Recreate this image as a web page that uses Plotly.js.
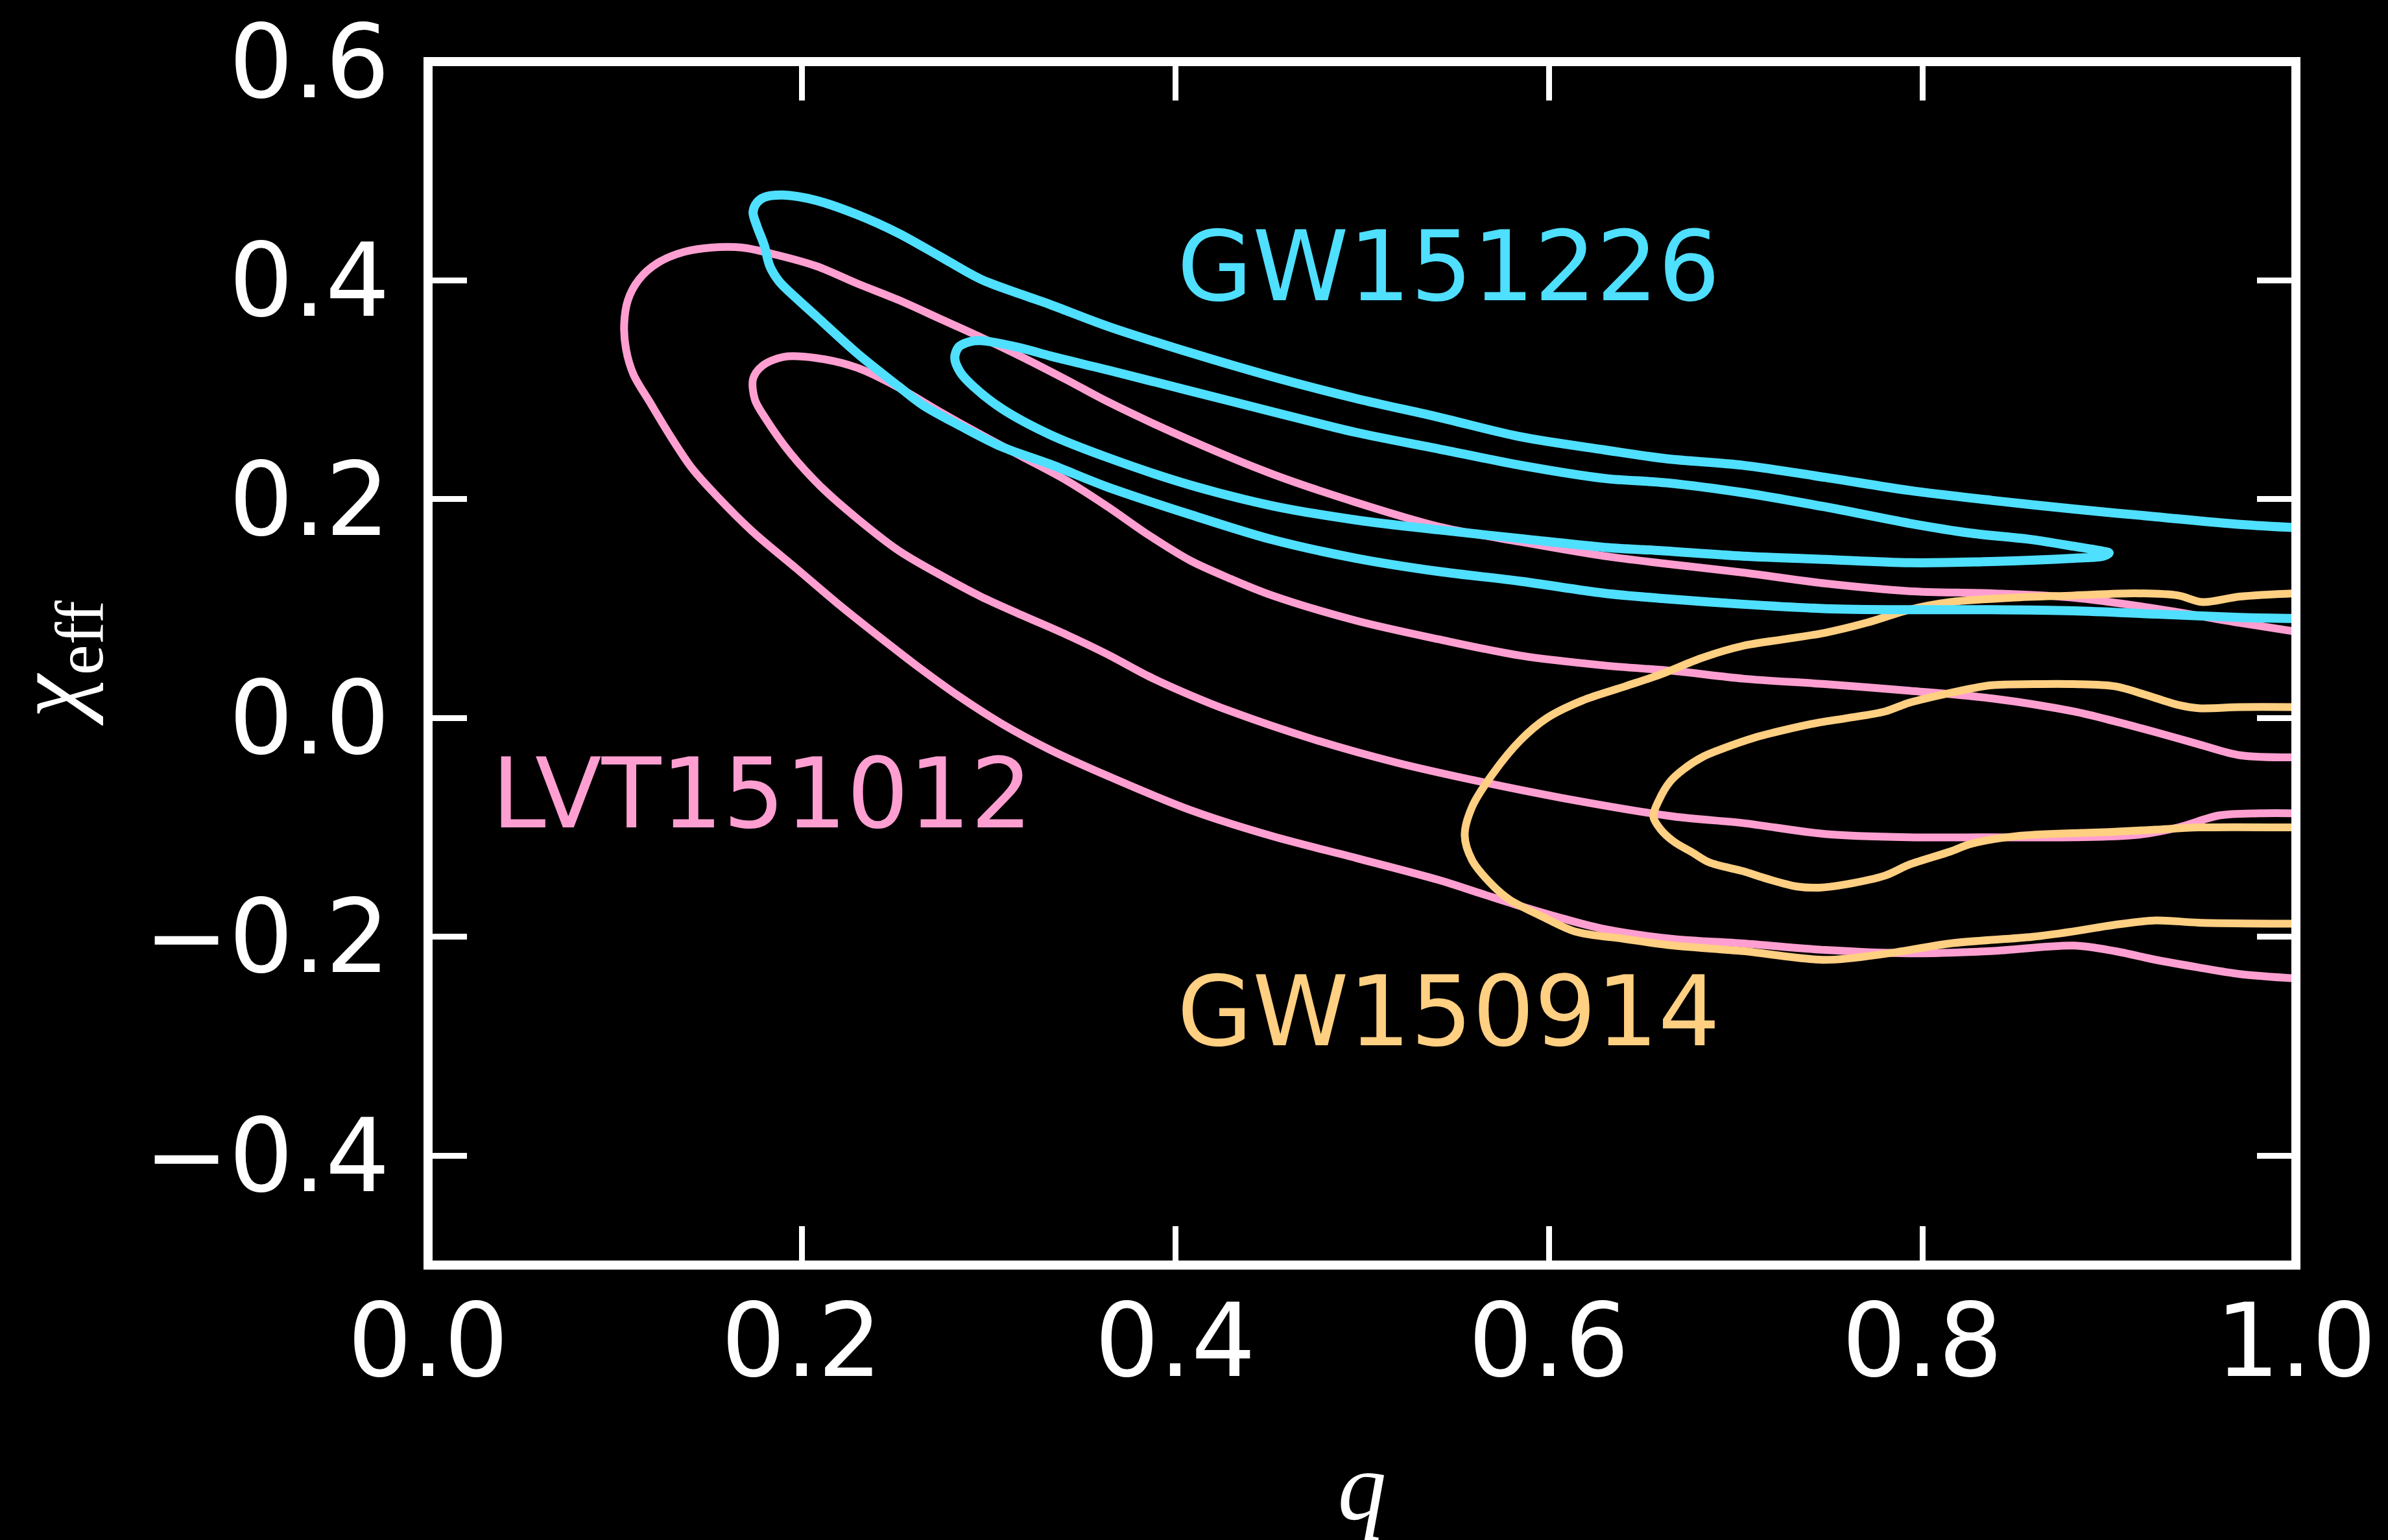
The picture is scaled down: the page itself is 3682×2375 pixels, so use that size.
<!DOCTYPE html>
<html>
<head>
<meta charset="utf-8">
<script src="https://cdn.plot.ly/plotly-3.0.1.min.js"></script>
<style>
  html, body { margin: 0; padding: 0; background: #000; }
  #chart { width: 3682px; height: 2375px; }
</style>
</head>
<body>
<div id="chart"></div>
<script>
// Credible-region contours (90% outer, 50% inner) in the mass-ratio / effective-spin plane.
// Each contour runs from the q = 1 edge along its upper side, round its tip, and back along its lower side.

const gw151226_90_q = [1.000, 0.970, 0.925, 0.881, 0.837, 0.793, 0.748, 0.704, 0.663, 0.630, 0.585, 0.541, 0.497, 0.452, 0.408, 0.364, 0.333, 0.318, 0.296, 0.274, 0.252, 0.230, 0.208, 0.190, 0.180, 0.176, 0.174, 0.176, 0.180, 0.183, 0.188, 0.197, 0.208, 0.230, 0.252, 0.265, 0.285, 0.307, 0.333, 0.364, 0.408, 0.452, 0.497, 0.541, 0.585, 0.630, 0.663, 0.704, 0.748, 0.793, 0.837, 0.881, 0.925, 0.970, 1.000];
const gw151226_90_chi = [0.174, 0.177, 0.184, 0.191, 0.199, 0.208, 0.220, 0.231, 0.237, 0.245, 0.257, 0.275, 0.292, 0.312, 0.334, 0.358, 0.378, 0.387, 0.401, 0.422, 0.443, 0.460, 0.473, 0.478, 0.476, 0.471, 0.462, 0.450, 0.432, 0.413, 0.399, 0.384, 0.367, 0.333, 0.303, 0.286, 0.267, 0.248, 0.232, 0.211, 0.186, 0.163, 0.146, 0.134, 0.125, 0.114, 0.109, 0.104, 0.100, 0.099, 0.099, 0.098, 0.095, 0.092, 0.091];

const gw151226_50_q = [0.282, 0.284, 0.290, 0.296, 0.318, 0.333, 0.364, 0.408, 0.452, 0.497, 0.541, 0.585, 0.630, 0.663, 0.704, 0.748, 0.793, 0.826, 0.859, 0.881, 0.895, 0.900, 0.897, 0.881, 0.837, 0.793, 0.748, 0.704, 0.660, 0.630, 0.585, 0.541, 0.497, 0.452, 0.408, 0.364, 0.333, 0.307, 0.292, 0.285, 0.282];
const gw151226_50_chi = [0.329, 0.339, 0.344, 0.345, 0.338, 0.331, 0.318, 0.299, 0.280, 0.261, 0.246, 0.231, 0.219, 0.215, 0.206, 0.193, 0.178, 0.169, 0.163, 0.157, 0.153, 0.151, 0.148, 0.146, 0.143, 0.142, 0.145, 0.148, 0.153, 0.156, 0.164, 0.172, 0.181, 0.194, 0.213, 0.238, 0.259, 0.283, 0.303, 0.316, 0.329];

const lvt151012_90_q = [1.000, 0.970, 0.925, 0.881, 0.837, 0.793, 0.748, 0.704, 0.663, 0.630, 0.585, 0.541, 0.497, 0.452, 0.408, 0.364, 0.342, 0.318, 0.296, 0.274, 0.252, 0.230, 0.208, 0.185, 0.168, 0.152, 0.137, 0.123, 0.113, 0.107, 0.105, 0.106, 0.110, 0.119, 0.130, 0.141, 0.154, 0.174, 0.197, 0.219, 0.241, 0.263, 0.285, 0.307, 0.333, 0.364, 0.408, 0.452, 0.497, 0.541, 0.563, 0.585, 0.607, 0.630, 0.667, 0.704, 0.748, 0.793, 0.837, 0.881, 0.903, 0.925, 0.948, 0.970, 1.000];
const lvt151012_90_chi = [0.079, 0.087, 0.100, 0.110, 0.114, 0.116, 0.123, 0.133, 0.141, 0.148, 0.161, 0.175, 0.197, 0.223, 0.254, 0.289, 0.309, 0.330, 0.348, 0.365, 0.382, 0.397, 0.413, 0.424, 0.430, 0.430, 0.426, 0.416, 0.401, 0.382, 0.360, 0.337, 0.314, 0.288, 0.257, 0.229, 0.204, 0.170, 0.137, 0.105, 0.075, 0.046, 0.019, -0.005, -0.029, -0.053, -0.084, -0.108, -0.128, -0.148, -0.160, -0.172, -0.183, -0.193, -0.202, -0.206, -0.212, -0.215, -0.213, -0.208, -0.213, -0.221, -0.228, -0.234, -0.238];

const lvt151012_50_q = [1.000, 0.970, 0.948, 0.925, 0.903, 0.881, 0.837, 0.793, 0.748, 0.704, 0.667, 0.630, 0.585, 0.541, 0.497, 0.452, 0.430, 0.408, 0.386, 0.364, 0.342, 0.318, 0.296, 0.274, 0.252, 0.230, 0.208, 0.190, 0.179, 0.174, 0.175, 0.181, 0.194, 0.210, 0.230, 0.252, 0.274, 0.296, 0.318, 0.342, 0.364, 0.386, 0.408, 0.430, 0.475, 0.519, 0.563, 0.607, 0.667, 0.704, 0.748, 0.793, 0.837, 0.881, 0.914, 0.937, 0.959, 0.981, 1.000];
const lvt151012_50_chi = [-0.036, -0.034, -0.024, -0.013, -0.003, 0.006, 0.018, 0.025, 0.031, 0.036, 0.043, 0.048, 0.057, 0.072, 0.089, 0.112, 0.127, 0.144, 0.167, 0.193, 0.217, 0.239, 0.259, 0.280, 0.302, 0.320, 0.329, 0.330, 0.322, 0.310, 0.291, 0.273, 0.242, 0.212, 0.182, 0.153, 0.131, 0.111, 0.094, 0.076, 0.058, 0.038, 0.021, 0.006, -0.020, -0.041, -0.058, -0.073, -0.090, -0.096, -0.106, -0.109, -0.109, -0.109, -0.107, -0.100, -0.089, -0.087, -0.087];

const gw150914_90_q = [1.000, 0.970, 0.950, 0.937, 0.914, 0.881, 0.848, 0.815, 0.793, 0.770, 0.748, 0.726, 0.704, 0.682, 0.660, 0.641, 0.618, 0.599, 0.585, 0.570, 0.559, 0.555, 0.559, 0.570, 0.579, 0.596, 0.614, 0.641, 0.667, 0.704, 0.748, 0.782, 0.815, 0.859, 0.881, 0.903, 0.925, 0.948, 1.000];
const gw150914_90_chi = [0.114, 0.111, 0.106, 0.112, 0.114, 0.112, 0.110, 0.106, 0.099, 0.087, 0.078, 0.072, 0.066, 0.055, 0.040, 0.029, 0.016, 0.000, -0.020, -0.051, -0.081, -0.107, -0.130, -0.153, -0.166, -0.181, -0.195, -0.202, -0.208, -0.213, -0.221, -0.215, -0.206, -0.200, -0.195, -0.189, -0.185, -0.187, -0.188];

const gw150914_50_q = [1.000, 0.970, 0.948, 0.937, 0.920, 0.903, 0.881, 0.860, 0.837, 0.815, 0.793, 0.780, 0.760, 0.745, 0.726, 0.710, 0.693, 0.683, 0.672, 0.665, 0.659, 0.656, 0.660, 0.667, 0.677, 0.686, 0.704, 0.717, 0.733, 0.745, 0.759, 0.780, 0.793, 0.815, 0.826, 0.850, 0.885, 0.903, 0.925, 0.948, 1.000];
const gw150914_50_chi = [0.010, 0.010, 0.009, 0.012, 0.021, 0.029, 0.031, 0.031, 0.030, 0.023, 0.014, 0.006, 0.000, -0.004, -0.011, -0.018, -0.028, -0.035, -0.047, -0.058, -0.075, -0.090, -0.102, -0.113, -0.123, -0.132, -0.140, -0.147, -0.154, -0.155, -0.152, -0.144, -0.134, -0.122, -0.115, -0.108, -0.105, -0.104, -0.102, -0.100, -0.100];

// Event names and where each name sits on the axes
const eventNames = ['GW151226', 'LVT151012', 'GW150914'];
const eventLabelQ = [0.5465, 0.1788, 0.5465];
const eventLabelChi = [0.413, -0.069, -0.268];

const xTickVals = [0.0, 0.2, 0.4, 0.6, 0.8, 1.0];
const xTickText = ['0.0', '0.2', '0.4', '0.6', '0.8', '1.0'];
const yTickVals = [-0.4, -0.2, 0.0, 0.2, 0.4, 0.6];
const yTickText = ['\u22120.4', '\u22120.2', '0.0', '0.2', '0.4', '0.6'];

const CYAN = '#4FDFFF';
const PINK = '#FF9FD1';
const ORANGE = '#FFCF82';
const eventColors = [CYAN, PINK, ORANGE];

function contour(q, chi, color, width) {
  return {
    type: 'scatter',
    mode: 'lines',
    x: q,
    y: chi,
    line: { color: color, width: width, shape: 'spline', smoothing: 0.9 },
    hoverinfo: 'skip',
    showlegend: false
  };
}

const traces = [
  contour(lvt151012_90_q, lvt151012_90_chi, PINK, 12),
  contour(lvt151012_50_q, lvt151012_50_chi, PINK, 12),
  contour(gw150914_90_q, gw150914_90_chi, ORANGE, 12),
  contour(gw150914_50_q, gw150914_50_chi, ORANGE, 12),
  contour(gw151226_90_q, gw151226_90_chi, CYAN, 14),
  contour(gw151226_50_q, gw151226_50_chi, CYAN, 14)
];

const tickFont = { family: 'DejaVu Sans', size: 156, color: '#FFFFFF' };
const titleFont = { family: 'Liberation Serif', size: 150, color: '#FFFFFF' };

// Labels for the three events, in data coordinates
const eventAnnotations = eventNames.map((name, i) => ({
  text: name,
  x: eventLabelQ[i],
  y: eventLabelChi[i],
  xref: 'x', yref: 'y',
  xanchor: 'center', yanchor: 'middle',
  showarrow: false,
  font: { family: 'DejaVu Sans', size: 150, color: eventColors[i] }
}));

// Vertical axis title, rotated and placed left of the tick labels
const yTitleAnnotation = {
  text: '<i>\u03c7</i><sub>eff</sub>',
  xref: 'paper', yref: 'paper',
  x: -0.199, y: 0.5,
  xanchor: 'center', yanchor: 'middle',
  textangle: -90,
  showarrow: false,
  font: titleFont
};

const layout = {
  width: 3682,
  height: 2375,
  paper_bgcolor: '#000000',
  plot_bgcolor: '#000000',
  margin: { l: 660, r: 142, t: 95, b: 424 },
  showlegend: false,
  xaxis: {
    range: [0, 1],
    tickvals: xTickVals,
    ticktext: xTickText,
    ticks: 'inside',
    ticklen: 60,
    tickwidth: 9,
    tickcolor: '#FFFFFF',
    mirror: 'ticks',
    showline: false,
    showgrid: false,
    zeroline: false,
    tickfont: tickFont,
    ticklabelstandoff: 14,
    title: {
      text: '<i>q</i>',
      font: titleFont,
      standoff: 83
    }
  },
  yaxis: {
    range: [-0.5, 0.6],
    tickvals: yTickVals,
    ticktext: yTickText,
    ticks: 'inside',
    ticklen: 60,
    tickwidth: 9,
    tickcolor: '#FFFFFF',
    mirror: 'ticks',
    showline: false,
    showgrid: false,
    zeroline: false,
    tickfont: tickFont,
    ticklabelstandoff: 58
  },
  shapes: [{
    type: 'rect',
    xref: 'paper', yref: 'paper',
    x0: 0, x1: 1, y0: 0, y1: 1,
    line: { color: '#FFFFFF', width: 14 },
    fillcolor: 'rgba(0,0,0,0)',
    layer: 'above'
  }],
  annotations: eventAnnotations.concat([yTitleAnnotation])
};

Plotly.newPlot('chart', traces, layout, { displayModeBar: false, staticPlot: true });
</script>
</body>
</html>
